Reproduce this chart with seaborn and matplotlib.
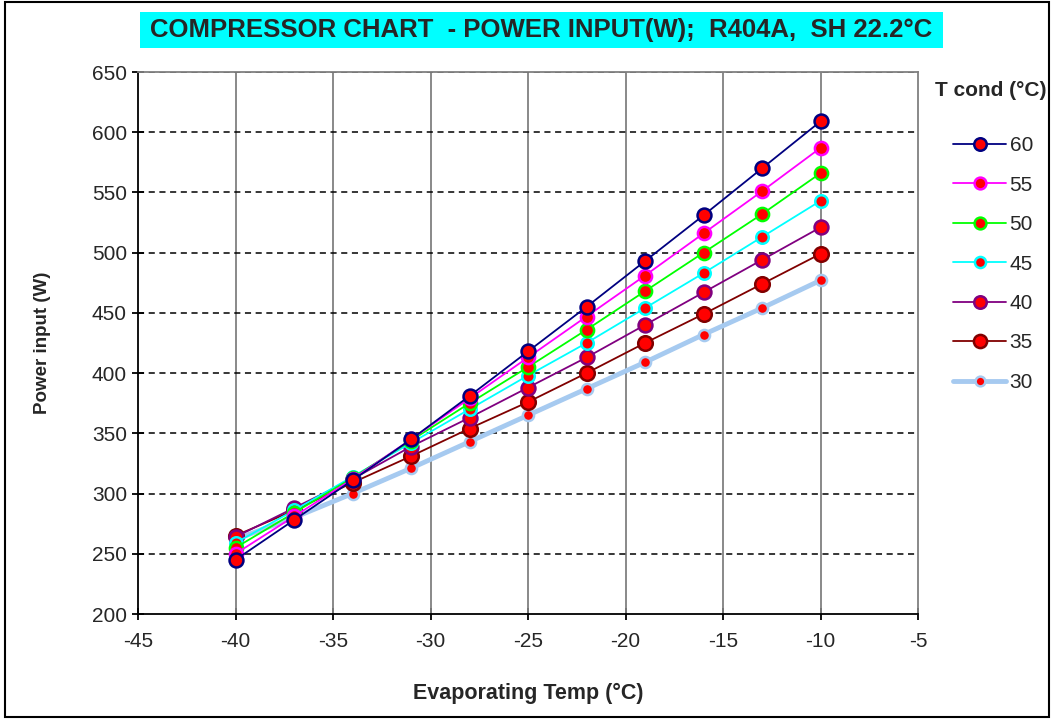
import matplotlib
matplotlib.use("Agg")
import matplotlib.pyplot as plt
import seaborn as sns
import pandas as pd
from matplotlib.patches import Rectangle
from matplotlib.lines import Line2D

evap = [-40, -37, -34, -31, -28, -25, -22, -19, -16, -13, -10]
p60 = [245, 278, 311, 345, 381, 418, 455, 493, 531, 570, 609]
p55 = [250, 281, 312, 345, 379, 413, 447, 481, 516, 551, 587]
p50 = [255, 284, 313, 344, 375, 405, 436, 468, 500, 532, 566]
p45 = [259, 286, 314, 342, 370, 398, 425, 454, 483, 513, 543]
p40 = [264, 288, 312, 339, 363, 388, 413, 440, 467, 494, 521]
p35 = [265, 286, 309, 331, 354, 376, 400, 425, 449, 474, 499]
p30 = [262, 280, 300, 321, 343, 365, 387, 409, 432, 454, 477]
tcond = ["60", "55", "50", "45", "40", "35", "30"]
series = [p60, p55, p50, p45, p40, p35, p30]
colors = ["#000080", "#FF00FF", "#00FF00", "#00FFFF", "#800080", "#800000", "#A6CAF0"]
lws = [1.3, 1.3, 1.3, 1.3, 1.3, 1.3, 3.5]
msz = [10, 9.5, 9.5, 9, 10, 10.5, 8]

rows = []
for t, vals in zip(tcond, series):
    for x, v in zip(evap, vals):
        rows.append({"evap": x, "power": v, "tcond": t})
df = pd.DataFrame(rows)

sns.set_style("white")
plt.rcParams['font.family'] = ['Liberation Sans', 'DejaVu Sans']
plt.rcParams['axes.unicode_minus'] = False

fig = plt.figure(figsize=(10.53, 7.19), dpi=100)
ax = fig.add_axes([138/1053, 1-614/719, (918-138)/1053, (614-72)/719])

for t, c, lw, ms in reversed(list(zip(tcond, colors, lws, msz))):
    sub = df[df.tcond == t]
    sns.lineplot(data=sub, x="evap", y="power", ax=ax, color=c, lw=lw,
                 marker="o", markersize=ms, markerfacecolor="red",
                 markeredgecolor=c, markeredgewidth=1.8, legend=False, zorder=3)

ax.set_xlim(-45, -5)
ax.set_ylim(200, 650)
ax.set_xticks(range(-45, 0, 5))
ax.set_yticks(range(200, 651, 50))
ax.tick_params(axis="both", labelsize=15, length=8, width=1.3, direction="inout",
               color="black", bottom=True, left=True)
ax.tick_params(axis="y", pad=4)
ax.tick_params(axis="x", pad=9)
for x in range(-40, -5, 5):
    ax.axvline(x, color="#808080", lw=1.3, zorder=1)
for y in range(250, 651, 50):
    ax.axhline(y, color="black", lw=1.1, ls=(0, (4, 3)), zorder=1)
for side in ["top", "right"]:
    ax.spines[side].set_color("#808080")
    ax.spines[side].set_linewidth(1.3)
for side in ["left", "bottom"]:
    ax.spines[side].set_color("black")
    ax.spines[side].set_linewidth(1.3)
ax.set_xlabel("Evaporating Temp (°C)", fontsize=15.5, fontweight="bold", labelpad=23)
ax.set_ylabel("Power input (W)", fontsize=13.5, fontweight="bold", labelpad=29)

# Title box
fig.patches.append(Rectangle((140/1053, 1-48/719), (943-140)/1053, 36/719,
                             transform=fig.transFigure, facecolor="#00FFFF",
                             edgecolor="none", zorder=0))
fig.text(541/1053, 1-30/719, "COMPRESSOR CHART  - POWER INPUT(W);  R404A,  SH 22.2°C",
         ha="center", va="center", fontsize=18.5, fontweight="bold")

# Outer frame
fig.patches.append(Rectangle((5/1053, 2/719), 1044/1053, 715/719, transform=fig.transFigure,
                             facecolor="none", edgecolor="black", lw=1.5))

# Legend
handles = [Line2D([0], [0], color=c, lw=lw, marker="o", markersize=ms - 1,
                  markerfacecolor="red", markeredgecolor=c, markeredgewidth=1.8)
           for c, lw, ms in zip(colors, lws, msz)]
leg = fig.legend(handles, tcond, loc="upper left", bbox_to_anchor=(945/1053, 1-128/719),
                 frameon=False, fontsize=15, handlelength=2.55, labelspacing=0.98,
                 handletextpad=0.15, borderaxespad=0)
fig.text(991/1053, 1-90/719, "T cond (°C)", ha="center", va="center",
         fontsize=15, fontweight="bold")

fig.savefig("out.png", dpi=100)
